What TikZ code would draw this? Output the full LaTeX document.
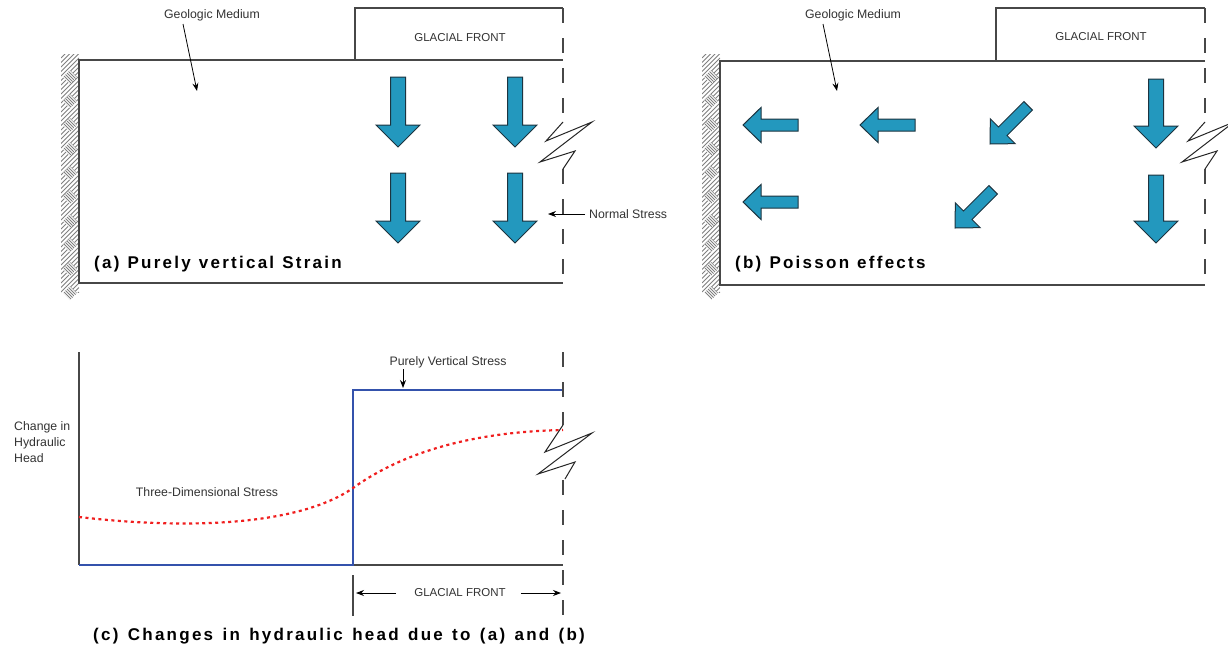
\documentclass[tikz,border=0pt]{standalone}
\usepackage{fontspec}
\setmainfont{Liberation Sans}
\newfontfamily\capfont[LetterSpace=13.25]{Liberation Sans}
\newfontfamily\capfontw[LetterSpace=13.25,WordSpace=1.16]{Liberation Sans}
\usetikzlibrary{arrows.meta}
\definecolor{arrowfill}{RGB}{35,152,190}
\definecolor{arrowline}{RGB}{28,52,64}
\definecolor{graphblue}{RGB}{52,82,172}
\definecolor{dotred}{RGB}{240,30,30}
\newcommand{\blockarr}[7]{%
  \begin{scope}[shift={(#1,#2)}, rotate=#3]
    \path[barr] (0pt,0pt) -- (-#7pt,#6pt) -- (-#7pt,#5pt) -- (-#4pt,#5pt) -- (-#4pt,-#5pt) -- (-#7pt,-#5pt) -- (-#7pt,-#6pt) -- cycle;
  \end{scope}}
\newcommand{\hatchwall}[1]{%
  \begin{scope}[xshift=#1]
    \begin{scope}
      \clip (61,54) rectangle (79,292);
      \foreach \k in {0,...,58} {\draw[hatch] (61,58+4.5*\k) -- (79,40+4.5*\k);}
    \end{scope}
    \foreach \k in {0,...,9} {
      \begin{scope}
        \clip (70,{70+24*\k}) -- (77,{77+24*\k}) -- (70,{84+24*\k}) -- (63,{77+24*\k}) -- cycle;
        \fill[white] (60,{60+24*\k}) rectangle (80,{95+24*\k});
        \foreach \i in {0,...,5} {\draw[hatch] (60,{60+24*\k+3*\i}) -- (80,{80+24*\k+3*\i});}
      \end{scope}
    }
  \end{scope}}
\begin{document}
\begin{tikzpicture}[x=1pt,y=-1pt,
  frm/.style={draw=black!72, line width=1.3pt},
  dashv/.style={draw=black!72, line width=1.3pt, dash pattern=on 15pt off 15pt},
  zz/.style={draw=black!85, line width=1pt, line join=miter},
  lbl/.style={font=\fontsize{12.3}{14}\selectfont, text=black!80, inner sep=0pt},
  lblcaps/.style={font=\fontsize{11.5}{14}\selectfont, text=black!80, inner sep=0pt},
  captxt/.style={font=\capfont\bfseries\fontsize{17}{20}\selectfont, inner sep=0pt, anchor=west},
  captxtw/.style={font=\capfontw\bfseries\fontsize{17}{20}\selectfont, inner sep=0pt, anchor=west},
  ptr/.style={draw=black, line width=0.8pt, -{Stealth[length=8pt,width=6pt]}},
  barr/.style={fill=arrowfill, draw=arrowline, line width=1pt, line join=miter},
  hatch/.style={draw=black!50, line width=0.75pt}]
\useasboundingbox[fill=white] (0,0) rectangle (1228,653);

% ---------------- Panel (a) ----------------
\hatchwall{0pt}
\draw[frm] (563,60) -- (79,60) -- (79,283) -- (563,283);
\draw[frm] (355,60) -- (355,8) -- (563,8);
\draw[dashv] (563,8) -- (563,122);
\draw[dashv] (563,169) -- (563,283);
\draw[zz] (563,122) -- (546,141) -- (592,122) -- (540,162) -- (575,151) -- (563,169);
\node[lblcaps] (glA) at (460,38) {GLACIAL FRONT};
\node[lbl] (geoA) at (212,15) {Geologic Medium};
\coordinate (geoAs) at (183,24);
\coordinate (geoAt) at (197,91);
\draw[ptr] (geoAs) -- (geoAt);
\blockarr{398}{147}{-90}{70}{7.5}{22}{22}
\blockarr{515}{147}{-90}{70}{7.5}{22}{22}
\blockarr{398}{243}{-90}{70}{7.5}{22}{22}
\blockarr{515}{243}{-90}{70}{7.5}{22}{22}
\node[lbl, anchor=west] (ns) at (589,214) {Normal Stress};
\coordinate (nsT) at (548,214);
\draw[ptr, shorten <=4pt] (ns.west) -- (nsT);
\node[captxt] (capA) at (94,264) {(a) Purely vertical Strain};

% ---------------- Panel (b) ----------------
\hatchwall{641pt}
\draw[frm] (1205,61) -- (720,61) -- (720,285) -- (1205,285);
\draw[frm] (996,61) -- (996,8) -- (1205,8);
\draw[dashv] (1205,8) -- (1205,122);
\draw[dashv] (1205,169) -- (1205,285);
\draw[zz] (1205,122) -- (1188,141) -- (1234,122) -- (1182,162) -- (1217,151) -- (1205,169);
\node[lblcaps] (glB) at (1101,37) {GLACIAL FRONT};
\node[lbl] (geoB) at (853,15) {Geologic Medium};
\coordinate (geoBs) at (823,24);
\coordinate (geoBt) at (837,91);
\draw[ptr] (geoBs) -- (geoBt);
\blockarr{743}{125}{180}{55}{6}{17.5}{18}
\blockarr{860}{125}{180}{55}{6}{17.5}{18}
\blockarr{743}{202}{180}{55}{6}{17.5}{18}
\blockarr{990}{144}{-135}{54}{6}{17.5}{18}
\blockarr{955}{228}{-135}{54}{6}{17.5}{18}
\blockarr{1156}{148}{-90}{69}{7.5}{22}{22}
\blockarr{1156}{243}{-90}{68}{7.5}{22}{22}
\node[captxt] (capB) at (735,264) {(b) Poisson effects};

% ---------------- Panel (c) ----------------
\draw[frm] (79,352) -- (79,565);
\draw[frm] (353,565) -- (563,565);
\draw[graphblue, line width=2pt] (79,565) -- (353,565) -- (353,390) -- (563,390);
\draw[dotred, line width=2.2pt, dash pattern=on 3pt off 3.5pt]
  (79,517) .. controls (190,530) and (300,525) .. (353,488)
  .. controls (395,458) and (460,432) .. (563,430);
\draw[dashv] (563,352) -- (563,425);
\draw[dashv] (563,480) -- (563,616);
\draw[zz] (563,425) -- (545,452) -- (592,433) -- (538,474) -- (575,462) -- (565,479);
\draw[frm, line width=1.1pt] (353,575) -- (353,616);
\node[lbl] (pvs) at (448,362) {Purely Vertical Stress};
\coordinate (pvsS) at (403,369);
\coordinate (pvsT) at (403,388);
\draw[ptr] (pvsS) -- (pvsT);
\node[lbl] (tds) at (207,492) {Three-Dimensional Stress};
\node[lbl, anchor=north west, align=left, font=\fontsize{12.3}{16.3}\selectfont] (chh) at (14,421) {Change in\\Hydraulic\\Head};
\node[lblcaps] (glC) at (460,593) {GLACIAL FRONT};
\coordinate (glCl) at (356,593);
\coordinate (glCr) at (561,593);
\draw[ptr] ([xshift=-18pt]glC.west) -- (glCl);
\draw[ptr] ([xshift=15pt]glC.east) -- (glCr);
\node[captxtw] (capC) at (93,636) {(c) Changes in hydraulic head due to (a) and (b)};
\end{tikzpicture}
\end{document}
